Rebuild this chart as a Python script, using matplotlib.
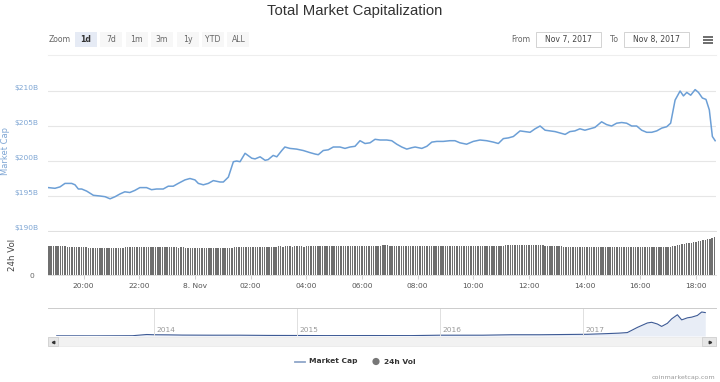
import numpy as np
import matplotlib
matplotlib.use("Agg")
import matplotlib.pyplot as plt
from matplotlib.patches import Rectangle, Circle

# market cap, hours from 8 Nov 00:00, $B
cap_hours = [-5.27, -5.03, -4.85, -4.67, -4.43, -4.31, -4.19, -4.07, -3.89, -3.65,
             -3.41, -3.23, -3.05, -2.87, -2.69, -2.52, -2.34, -2.16, -1.98, -1.74,
             -1.56, -1.38, -1.14, -0.96, -0.78, -0.60, -0.36, -0.18, 0.0, 0.12,
             0.30, 0.48, 0.66, 0.90, 1.02, 1.20, 1.38, 1.50, 1.62, 1.80,
             2.04, 2.16, 2.34, 2.52, 2.63, 2.81, 2.94, 3.12, 3.23, 3.41,
             3.65, 3.89, 4.13, 4.31, 4.43, 4.61, 4.79, 4.97, 5.21, 5.39,
             5.57, 5.75, 5.93, 6.11, 6.29, 6.47, 6.65, 6.89, 7.07, 7.25,
             7.43, 7.61, 7.79, 7.91, 8.15, 8.33, 8.51, 8.69, 8.92, 9.16,
             9.34, 9.52, 9.76, 10.0, 10.24, 10.48, 10.72, 10.90, 11.08, 11.26,
             11.44, 11.68, 11.86, 12.04, 12.22, 12.40, 12.58, 12.76, 12.94, 13.12,
             13.30, 13.47, 13.65, 13.83, 14.01, 14.19, 14.37, 14.61, 14.79, 14.97,
             15.15, 15.33, 15.51, 15.69, 15.87, 16.05, 16.23, 16.41, 16.59, 16.77,
             16.95, 17.09, 17.25, 17.43, 17.55, 17.67, 17.81, 17.97, 18.09, 18.23,
             18.36, 18.48, 18.59, 18.69]
cap_values = [196.2, 196.1, 196.3, 196.8, 196.8, 196.6, 196.0, 196.0, 195.7, 195.1,
              195.0, 194.9, 194.6, 194.9, 195.3, 195.6, 195.5, 195.8, 196.2, 196.2,
              195.9, 196.0, 196.0, 196.4, 196.4, 196.8, 197.3, 197.5, 197.3, 196.8,
              196.6, 196.8, 197.2, 197.0, 197.0, 197.7, 199.9, 200.0, 199.9, 201.1,
              200.4, 200.3, 200.6, 200.1, 200.2, 200.8, 200.6, 201.5, 202.0, 201.8,
              201.7, 201.5, 201.2, 201.0, 200.9, 201.5, 201.6, 202.0, 202.0, 201.8,
              202.0, 202.1, 202.9, 202.5, 202.6, 203.1, 203.0, 203.0, 202.9, 202.4,
              202.0, 201.7, 201.9, 202.0, 201.8, 202.1, 202.7, 202.8, 202.8, 202.9,
              202.9, 202.6, 202.4, 202.8, 203.0, 202.9, 202.7, 202.5, 203.2, 203.3,
              203.5, 204.3, 204.2, 204.1, 204.6, 205.0, 204.4, 204.3, 204.2, 204.0,
              203.8, 204.2, 204.3, 204.6, 204.4, 204.6, 204.8, 205.6, 205.2, 205.0,
              205.4, 205.5, 205.4, 205.0, 205.0, 204.4, 204.1, 204.1, 204.3, 204.7,
              204.9, 205.4, 208.7, 210.0, 209.3, 209.8, 209.4, 210.2, 209.8, 209.0,
              208.8, 207.3, 203.5, 202.9]

# 24h volume, one 5-minute bar each, rows start at 18:45, 19:45, ...
vol_start = -5.25
vol_rows = [
    [7.62, 7.60, 7.61, 7.58, 7.60, 7.59, 7.57, 7.55, 7.36, 7.34, 7.33, 7.35],
    [7.33, 7.32, 7.34, 7.31, 7.30, 7.16, 7.15, 7.14, 7.15, 7.16, 7.13, 7.14],
    [7.14, 7.15, 7.13, 7.14, 7.16, 7.15, 7.14, 7.13, 7.15, 7.39, 7.40, 7.41],
    [7.40, 7.42, 7.41, 7.39, 7.40, 7.41, 7.42, 7.40, 7.39, 7.38, 7.22, 7.20],
    [7.21, 7.20, 7.19, 7.22, 7.20, 7.21, 7.19, 7.20, 7.18, 7.19, 7.20, 7.18],
    [7.18, 7.17, 7.02, 7.00, 7.01, 6.99, 7.00, 7.01, 6.98, 7.00, 6.99, 7.01],
    [7.00, 6.99, 7.01, 7.00, 6.98, 7.00, 7.02, 7.01, 7.24, 7.25, 7.23, 7.26],
    [7.25, 7.24, 7.26, 7.25, 7.27, 7.24, 7.25, 7.26, 7.25, 7.27, 7.26, 7.25],
    [7.26, 7.27, 7.44, 7.45, 7.46, 7.44, 7.45, 7.46, 7.45, 7.44, 7.46, 7.47],
    [7.45, 7.46, 7.44, 7.47, 7.45, 7.46, 7.48, 7.45, 7.46, 7.47, 7.45, 7.46],
    [7.47, 7.46, 7.48, 7.47, 7.49, 7.46, 7.48, 7.47, 7.49, 7.48, 7.47, 7.50],
    [7.48, 7.49, 7.47, 7.50, 7.48, 7.49, 7.50, 7.48, 7.49, 7.51, 7.60, 7.62],
    [7.72, 7.75, 7.74, 7.70, 7.65, 7.62, 7.60, 7.61, 7.59, 7.60, 7.62, 7.60],
    [7.61, 7.60, 7.59, 7.62, 7.60, 7.61, 7.59, 7.60, 7.62, 7.61, 7.60, 7.59],
    [7.60, 7.62, 7.61, 7.59, 7.60, 7.61, 7.62, 7.60, 7.59, 7.61, 7.60, 7.62],
    [7.61, 7.60, 7.62, 7.61, 7.59, 7.60, 7.61, 7.60, 7.62, 7.61, 7.60, 7.61],
    [7.60, 7.62, 7.61, 7.60, 7.61, 7.76, 7.75, 7.77, 7.74, 7.76, 7.75, 7.77],
    [7.76, 7.75, 7.77, 7.74, 7.76, 7.75, 7.77, 7.76, 7.75, 7.74, 7.56, 7.55],
    [7.56, 7.54, 7.55, 7.56, 7.54, 7.55, 7.36, 7.35, 7.34, 7.36, 7.35, 7.34],
    [7.35, 7.36, 7.34, 7.35, 7.33, 7.36, 7.35, 7.34, 7.36, 7.35, 7.33, 7.34],
    [7.36, 7.35, 7.34, 7.33, 7.35, 7.36, 7.34, 7.35, 7.33, 7.34, 7.35, 7.36],
    [7.34, 7.35, 7.36, 7.33, 7.35, 7.34, 7.36, 7.35, 7.34, 7.33, 7.35, 7.34],
    [7.34, 7.35, 7.33, 7.34, 7.36, 7.45, 7.62, 7.80, 7.95, 8.05, 8.15, 8.25],
    [8.33, 8.42, 8.55, 8.68, 8.80, 8.92, 9.05, 9.18, 9.32, 9.45, 9.62, 9.82],
]

# navigator: whole history, decimal year, $B
nav_years = [2013.32, 2013.6, 2013.85, 2013.92, 2013.95, 2014.0, 2014.1, 2014.2,
             2014.4, 2014.6, 2014.8, 2015.0, 2015.2, 2015.5, 2015.8, 2016.0,
             2016.3, 2016.5, 2016.7, 2017.03, 2017.15, 2017.25, 2017.31, 2017.38,
             2017.45, 2017.48, 2017.52, 2017.55, 2017.59, 2017.62, 2017.66, 2017.69,
             2017.73, 2017.76, 2017.80, 2017.83, 2017.855]
nav_values = [1.5, 1.4, 2.5, 10, 13, 11, 10, 8,
              7, 7, 5, 4.5, 3.5, 4, 3.5, 7,
              7, 11, 11, 15, 20, 25, 30, 75,
              114, 120, 105, 84, 111, 150, 186, 141,
              159, 165, 180, 210, 205]
nav_ticks = [2014, 2015, 2016, 2017]

x_ticks = [-4, -2, 0, 2, 4, 6, 8, 10, 12, 14, 16, 18]
x_labels = ["20:00", "22:00", "8. Nov", "02:00", "04:00", "06:00",
            "08:00", "10:00", "12:00", "14:00", "16:00", "18:00"]
y_ticks = [195, 200, 205, 210]
y_labels = ["$195B", "$200B", "$205B", "$210B"]
zoom_buttons = ["1d", "7d", "1m", "3m", "1y", "YTD", "ALL"]

W, H = 720, 382
LINE = "#6c9fd6"
LABEL_BLUE = "#7fa6d4"
GRID = "#e6e6e6"


def fig_box(x0, y0, x1, y1):
    # pixel box (top-left origin) -> figure fraction
    return [x0 / W, 1 - y1 / H, (x1 - x0) / W, (y1 - y0) / H]


fig = plt.figure(figsize=(W / 100, H / 100), dpi=100)
fig.patch.set_facecolor("white")

# overlay for the page furniture, in pixels
ui = fig.add_axes([0, 0, 1, 1])
ui.set_xlim(0, W)
ui.set_ylim(H, 0)
ui.axis("off")

ui.text(355, 11, "Total Market Capitalization", ha="center", va="center",
        fontsize=10.7, color="#333333", family="Liberation Sans")

ui.text(49, 39.5, "Zoom", ha="left", va="center", fontsize=5.6, color="#666666")
for i, lab in enumerate(zoom_buttons):
    bx = 75 + i * 25.4
    sel = (i == 0)
    ui.add_patch(Rectangle((bx, 32), 22, 15, facecolor="#e6ebf5" if sel else "#f7f7f7",
                           edgecolor="none"))
    ui.text(bx + 11, 39.5, lab, ha="center", va="center", fontsize=5.6,
            color="#333333" if sel else "#666666", weight="bold" if sel else "normal")

ui.text(530, 39.5, "From", ha="right", va="center", fontsize=5.6, color="#666666")
ui.add_patch(Rectangle((536, 32), 65, 15, facecolor="white", edgecolor="#cccccc", lw=0.6))
ui.text(568.5, 39.5, "Nov 7, 2017", ha="center", va="center", fontsize=5.6, color="#444444")
ui.text(618, 39.5, "To", ha="right", va="center", fontsize=5.6, color="#666666")
ui.add_patch(Rectangle((624, 32), 65, 15, facecolor="white", edgecolor="#cccccc", lw=0.6))
ui.text(656.5, 39.5, "Nov 8, 2017", ha="center", va="center", fontsize=5.6, color="#444444")
for yy in (36.5, 39.5, 42.5):
    ui.plot([703, 713], [yy, yy], color="#555555", lw=1.2, solid_capstyle="butt")
ui.plot([48, 716], [55, 55], color="#eeeeee", lw=0.8)

# main price panel
ax = fig.add_axes(fig_box(48, 60, 716, 231))
ax.plot(cap_hours, cap_values, color=LINE, lw=1.1)
ax.set_xlim(-5.28, 18.72)
ax.set_ylim(190, 214.43)
ax.set_yticks([190] + y_ticks)
ax.set_yticklabels(["$190B"] + y_labels)
ax.tick_params(axis="y", length=0, labelsize=5.4, labelcolor=LABEL_BLUE, pad=7)
for lab in ax.get_yticklabels():
    lab.set_verticalalignment("bottom")
ax.set_xticks([])
ax.grid(axis="y", color=GRID, lw=0.8)
for s in ax.spines.values():
    s.set_visible(False)
ax.set_ylabel("Market Cap", color=LABEL_BLUE, fontsize=6.0, labelpad=2)
ax.yaxis.set_label_coords(-0.057, 0.47)

# volume panel
vol = np.concatenate([np.array(r) for r in vol_rows])
vol_t = vol_start + np.arange(len(vol)) * 5 / 60
av = fig.add_axes(fig_box(48, 231, 716, 275))
av.bar(vol_t, vol, width=5 / 60 * 0.62, color="#6f6f6f", align="center", lw=0)
av.set_xlim(-5.28, 18.72)
av.set_ylim(0, 11.5)
av.set_yticks([0])
av.set_yticklabels(["0"])
av.tick_params(axis="y", length=0, labelsize=5.4, labelcolor="#666666", pad=10)
av.set_xticks(x_ticks)
av.set_xticklabels(x_labels)
av.tick_params(axis="x", length=3, width=0.6, color="#cccccc", labelsize=5.4,
               labelcolor="#555555", pad=3)
for k, s in av.spines.items():
    s.set_visible(k in ("top", "bottom"))
    s.set_color("#e0e0e0")
    s.set_linewidth(0.7)
av.set_ylabel("24h Vol", color="#444444", fontsize=6.2, labelpad=2)
av.yaxis.set_label_coords(-0.047, 0.45)

# navigator
an = fig.add_axes(fig_box(48, 308, 716, 336))
an.fill_between(nav_years, nav_values, color="#e8edf6", lw=0)
an.plot(nav_years, nav_values, color="#3d5a95", lw=0.8)
an.set_xlim(2013.259, 2017.93)
an.set_ylim(0, 245)
an.set_yticks([])
an.set_xticks([])
for yr in nav_ticks:
    an.axvline(yr, color="#e0e0e0", lw=0.7)
    an.text(yr + 0.02, 26, str(yr), fontsize=5.4, color="#999999", va="bottom", ha="left")
for k, s in an.spines.items():
    s.set_visible(k == "top")
    s.set_color("#cccccc")
    s.set_linewidth(0.7)

# navigator handle and scrollbar
ui.add_patch(Rectangle((703, 317), 5, 11, facecolor="#f2f2f2", edgecolor="#999999", lw=0.6))
ui.plot([705.5, 705.5], [319.5, 325.5], color="#999999", lw=0.6)
ui.add_patch(Rectangle((48, 337), 668, 9, facecolor="#f2f2f2", edgecolor="#e8e8e8", lw=0.5))
ui.add_patch(Rectangle((48, 337), 10, 9, facecolor="#e6e6e6", edgecolor="#cccccc", lw=0.5))
ui.add_patch(Rectangle((702, 337), 14, 9, facecolor="#e6e6e6", edgecolor="#cccccc", lw=0.5))
ui.plot([52.5], [341.5], marker="<", ms=1.8, color="#333333")
ui.plot([709.5], [341.5], marker=">", ms=1.8, color="#333333")

# legend
ui.plot([295, 305], [361.5, 361.5], color="#8fa6c9", lw=1.3)
ui.text(309, 361.5, "Market Cap", ha="left", va="center", fontsize=5.4,
        weight="bold", color="#333333")
ui.add_patch(Circle((376, 361.5), 3.6, facecolor="#777777", edgecolor="none"))
ui.text(384, 361.5, "24h Vol", ha="left", va="center", fontsize=5.4,
        weight="bold", color="#333333")

ui.text(715, 377, "coinmarketcap.com", ha="right", va="center", fontsize=4.6, color="#999999")

fig.savefig("out.png", dpi=100)
